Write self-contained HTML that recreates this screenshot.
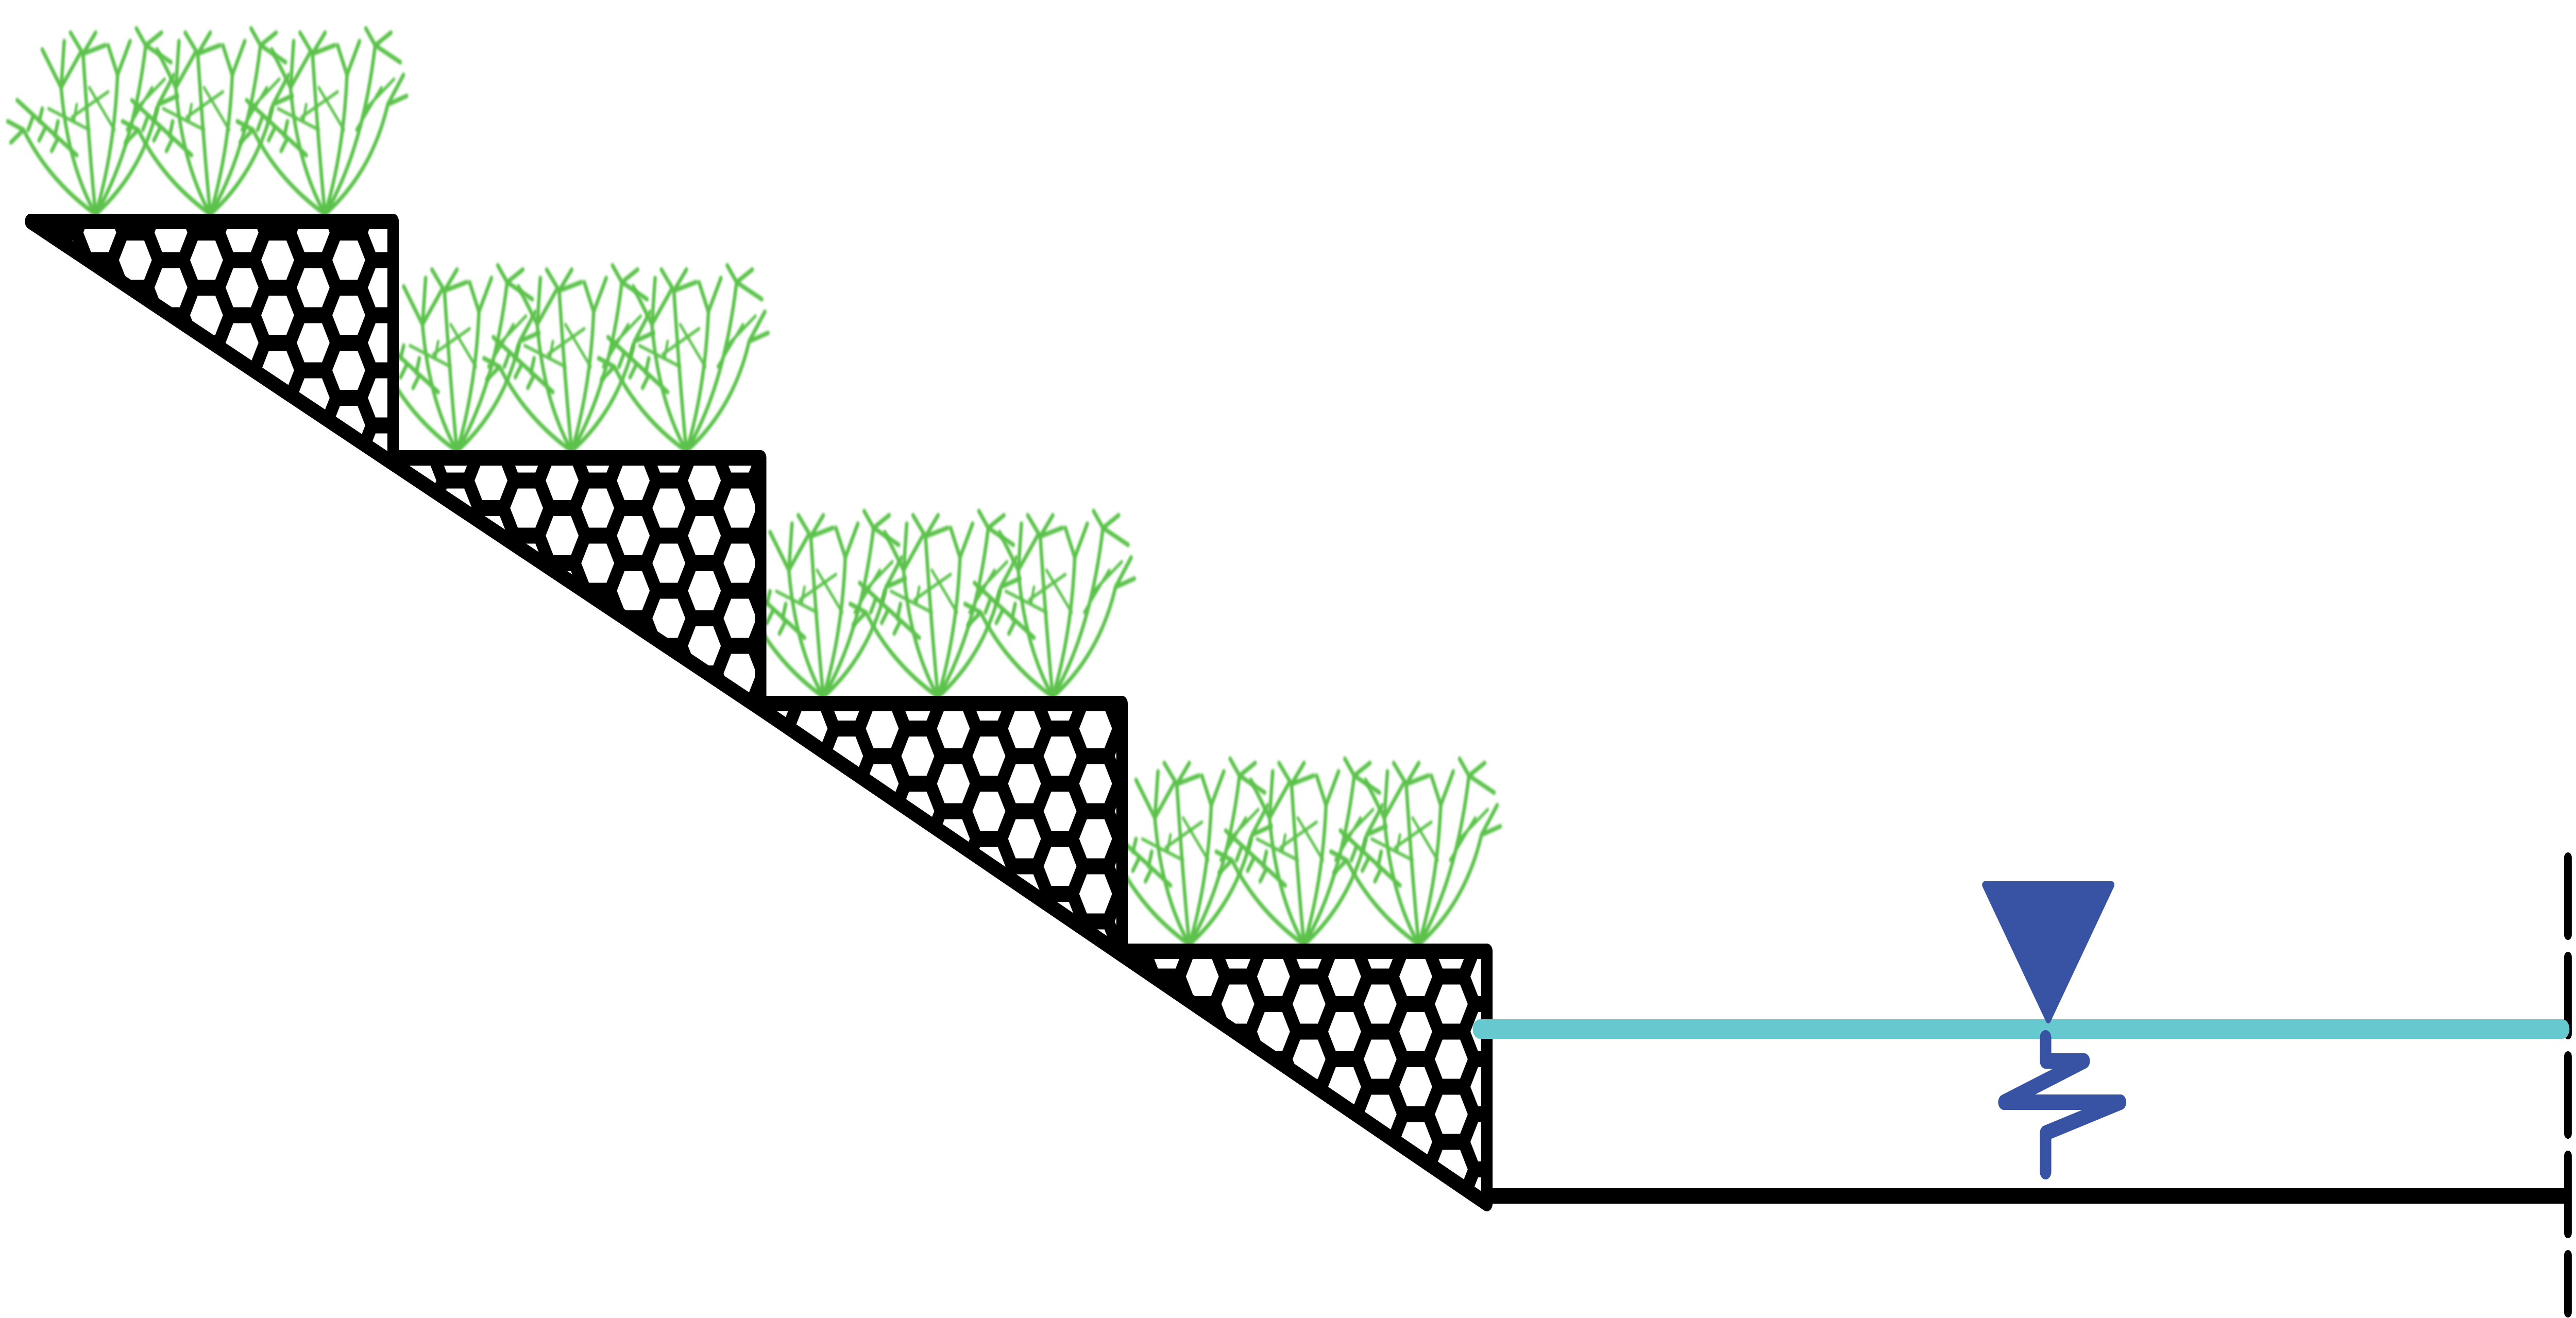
<!DOCTYPE html>
<html><head><meta charset="utf-8"><style>html,body{margin:0;padding:0;background:#fff;overflow:hidden;width:100%;height:100%}svg{display:block;width:100vw;height:100vh}</style></head>
<body>
<svg viewBox="0 0 6736 2559" preserveAspectRatio="none" xmlns="http://www.w3.org/2000/svg">
<defs>
<pattern id="hex" patternUnits="userSpaceOnUse" width="186" height="107" x="354" y="505">
<rect width="186" height="107" fill="#000"/>
<g fill="#fff">
<polygon points="-43,0 -23,-38 23,-38 43,0 23,38 -23,38" transform="translate(93,53.5)"/>
<polygon points="-43,0 -23,-38 23,-38 43,0 23,38 -23,38" transform="translate(0,0)"/>
<polygon points="-43,0 -23,-38 23,-38 43,0 23,38 -23,38" transform="translate(186,0)"/>
<polygon points="-43,0 -23,-38 23,-38 43,0 23,38 -23,38" transform="translate(0,107)"/>
<polygon points="-43,0 -23,-38 23,-38 43,0 23,38 -23,38" transform="translate(186,107)"/>
</g>
</pattern>
<filter id="soft"><feGaussianBlur stdDeviation="3"/></filter>
<g id="plant" fill="none" stroke="#5cc24c" stroke-width="11" stroke-linecap="round" filter="url(#soft)" transform="scale(0.82)">
<path d="M0,0 Q-90,-120 -110,-300 M0,0 Q-20,-150 -40,-380 M0,0 Q60,-150 70,-330 M0,0 Q120,-150 160,-400 M0,0 Q-150,-80 -230,-200 M0,0 Q150,-100 200,-260"/>
<path d="M-110,-300 L-170,-390 M-110,-300 L-100,-410 M-110,-300 L-50,-380 M-40,-380 L-80,-430 M-40,-380 L0,-430 M-40,-380 L30,-400 M70,-330 L40,-400 M70,-330 L110,-410 M160,-400 L130,-440 M160,-400 L210,-430 M160,-400 L240,-360 M200,-260 L250,-330 M200,-260 L260,-280"/>
<path d="M-60,-140 L-250,-270 M-120,-180 L-140,-150 M-160,-205 L-180,-175 M-200,-230 L-215,-200 M-130,-185 L-120,-220 M-180,-220 L-170,-250 M-230,-200 L-280,-220 M-230,-200 L-270,-170"/>
<path d="M-20,-200 L-150,-250 M-70,-220 L-60,-260 M60,-200 L-20,-300 M100,-200 L180,-300 M130,-250 L220,-320 M-75,-230 L40,-290" stroke-width="8"/>
</g>
</defs>

<g>
<use href="#plant" x="250" y="416"/><use href="#plant" x="550" y="416"/><use href="#plant" x="850" y="416"/>
<use href="#plant" x="1195" y="876"/><use href="#plant" x="1495" y="876"/><use href="#plant" x="1795" y="876"/>
<use href="#plant" x="2153" y="1353"/><use href="#plant" x="2453" y="1353"/><use href="#plant" x="2753" y="1353"/>
<use href="#plant" x="3110" y="1834"/><use href="#plant" x="3410" y="1834"/><use href="#plant" x="3710" y="1834"/>
</g>

<g fill="url(#hex)" stroke="#000" stroke-width="30" stroke-linejoin="round">
<polygon points="80,430 1028,430 1028,900"/>
<polygon points="1028,889 1989,889 1989,1376 1028,900"/>
<polygon points="1989,1366 2934,1366 2934,1854 1989,1376"/>
<polygon points="2934,1847 3888,1847 3888,2337 2934,1854"/>
</g>

<line x1="3888" y1="2322" x2="6710" y2="2322" stroke="#000" stroke-width="30"/>
<line x1="6715" y1="1665" x2="6715" y2="2548" stroke="#000" stroke-width="20" stroke-dasharray="150 43" stroke-linecap="round"/>
<line x1="3870" y1="1998" x2="6700" y2="1998" stroke="#66c9d0" stroke-width="38" stroke-linecap="round"/>
<polygon points="5190,1718 5522,1718 5356,1980" fill="#3953a4" stroke="#3953a4" stroke-width="14" stroke-linejoin="round"/>
<polyline points="5349,2015 5349,2060 5450,2060 5240,2140 5545,2140 5349,2200 5349,2275" fill="none" stroke="#3953a4" stroke-width="30" stroke-linecap="round" stroke-linejoin="round"/>
</svg>
</body></html>
